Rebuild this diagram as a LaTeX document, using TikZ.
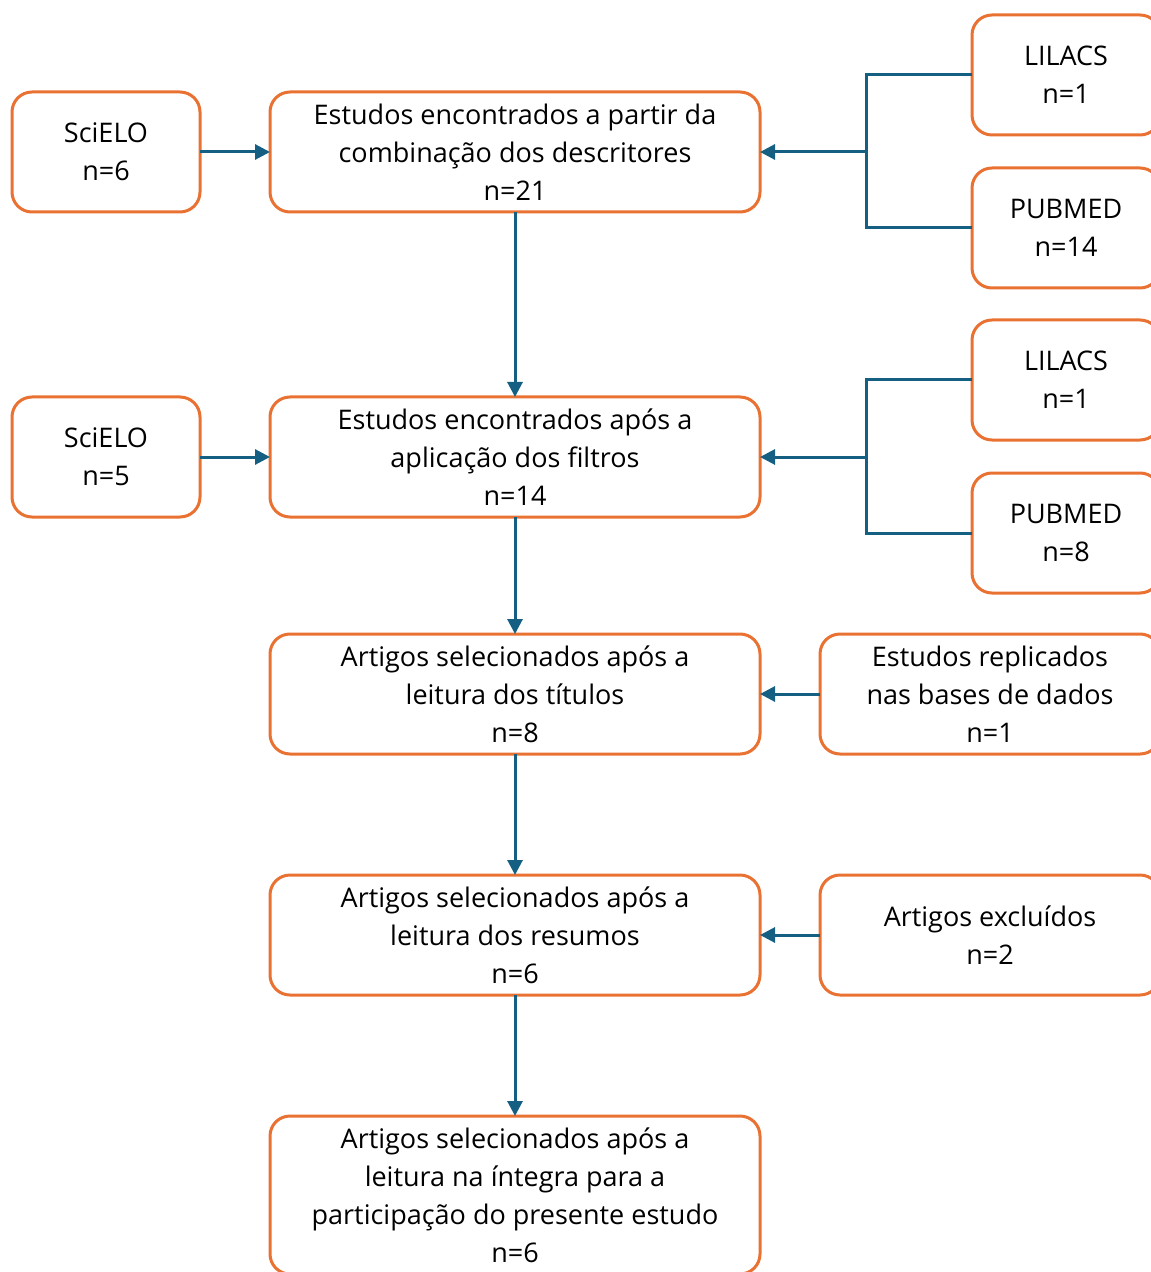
\documentclass[tikz,border=0pt]{standalone}
\usepackage{fontspec}
\setmainfont{Open Sans}
\usetikzlibrary{positioning,arrows.meta}
\definecolor{boxorange}{HTML}{E97132}
\definecolor{linkblue}{HTML}{156082}
\tikzset{
  box/.style={draw=boxorange, line width=1.5pt, rounded corners=10pt, align=center, inner sep=0pt, outer sep=0pt, font=\fontsize{13.5}{19}\selectfont},
  smallbox/.style={box, minimum width=94pt, minimum height=60pt},
  mainbox/.style={box, minimum width=245pt, minimum height=60pt},
  sidebox/.style={box, minimum width=170pt, minimum height=60pt},
  link/.style={draw=linkblue, line width=1.5pt, -{Triangle[length=7.5pt,width=7.5pt]}},
  branch/.style={draw=linkblue, line width=1.5pt},
}
\begin{document}
\begin{tikzpicture}[x=0.5pt, y=-0.5pt]
\useasboundingbox (0,0) rectangle (1150,1272);

% main column
\node[mainbox] (main1) at (515,152) {Estudos encontrados a partir da\\combinação dos descritores\\n=21};
\node[mainbox, below=92.5pt of main1] (main2) {Estudos encontrados após a\\aplicação dos filtros\\n=14};
\node[mainbox, below=58.5pt of main2] (main3) {Artigos selecionados após a\\leitura dos títulos\\n=8};
\node[mainbox, below=60.5pt of main3] (main4) {Artigos selecionados após a\\leitura dos resumos\\n=6};
\node[mainbox, minimum height=79pt, below=60.5pt of main4] (main5) {Artigos selecionados após a\\leitura na íntegra para a\\participação do presente estudo\\n=6};

% left sources
\node[smallbox, left=35pt of main1] (scielo1) {SciELO\\n=6};
\node[smallbox, left=35pt of main2] (scielo2) {SciELO\\n=5};

% right sources
\node[smallbox] (lilacs1) at (1066,75) {LILACS\\n=1};
\node[smallbox] (pubmed1) at (1066,228) {PUBMED\\n=14};
\node[smallbox] (lilacs2) at (1066,380) {LILACS\\n=1};
\node[smallbox] (pubmed2) at (1066,533) {PUBMED\\n=8};
\node[sidebox, right=30pt of main3] (repl) {Estudos replicados\\nas bases de dados\\n=1};
\node[sidebox, right=30pt of main4] (excl) {Artigos excluídos\\n=2};

\coordinate (join1) at (866,152);
\coordinate (join2) at (866,457);

% connectors
\draw[link] (scielo1) -- (main1);
\draw[link] (scielo2) -- (main2);
\draw[branch] (lilacs1.west) -| (join1) |- (pubmed1.west);
\draw[link] (join1) -- (main1);
\draw[branch] (lilacs2.west) -| (join2) |- (pubmed2.west);
\draw[link] (join2) -- (main2);
\draw[link] (repl) -- (main3);
\draw[link] (excl) -- (main4);
\draw[link] (main1) -- (main2);
\draw[link] (main2) -- (main3);
\draw[link] (main3) -- (main4);
\draw[link] (main4) -- (main5);
\end{tikzpicture}
\end{document}
